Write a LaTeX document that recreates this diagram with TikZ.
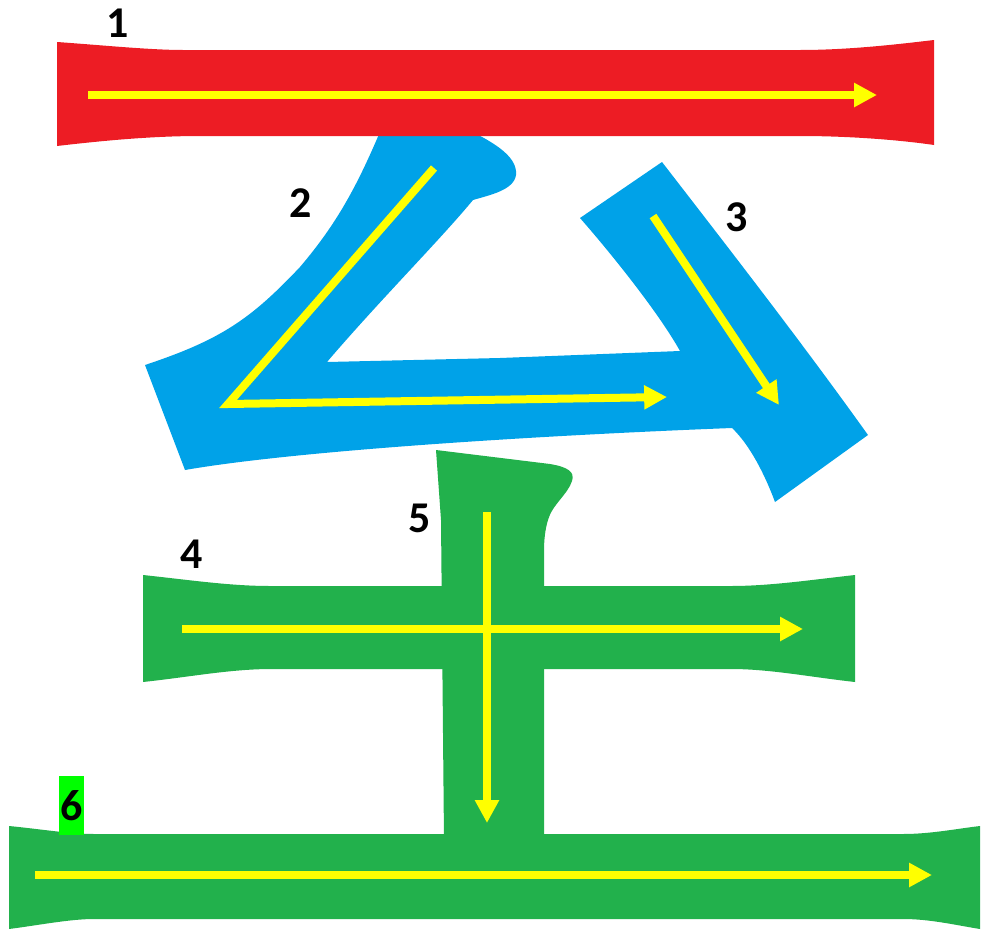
\documentclass[tikz,border=0pt]{standalone}
\usepackage{xcolor}
\usepackage{fontspec}
\setmainfont{Carlito}
\usepackage{tikz}
\usetikzlibrary{arrows.meta, positioning, calc}
\definecolor{strokered}{HTML}{ED1C24}
\definecolor{strokeblue}{HTML}{00A2E8}
\definecolor{strokegreen}{HTML}{22B14C}
\definecolor{arrowyellow}{HTML}{FFFF00}
\definecolor{markgreen}{HTML}{00FF00}
\tikzset{
  order/.style={draw=arrowyellow, line width=4.55pt,
                -{Triangle[length=13pt,width=13pt]}},
  num/.style={font=\fontsize{25}{25}\selectfont\bfseries, inner sep=0pt}
}

\begin{document}
\begin{tikzpicture}[x=0.02cm, y=-0.02cm]
    \useasboundingbox (0,0) rectangle (981,930);

    % strokes of the character
    \fill[strokegreen] (436,450) -- (550,464) .. controls (568,467) and (575,472) .. (572,481)
      .. controls (568,494) and (552,505) .. (548,520) .. controls (545,530) and (544,540) .. (544,552)
      -- (544,840) -- (444,840) -- (441,520) -- cycle;
    \fill[strokegreen] (143,575) .. controls (190,580) and (230,586) .. (270,586) -- (731,586)
      .. controls (770,586) and (810,580) .. (855,575) -- (855,682)
      .. controls (810,677) and (770,669) .. (731,669) -- (272,669)
      .. controls (230,669) and (190,677) .. (143,682) -- cycle;
    \fill[strokegreen] (9,826) .. controls (40,829) and (70,834) .. (94,834) -- (903,834)
      .. controls (930,834) and (955,829) .. (980,826) -- (980,929)
      .. controls (955,925) and (930,919) .. (903,919) -- (94,919)
      .. controls (70,919) and (40,925) .. (9,929) -- cycle;
    \fill[strokeblue] (385,120) -- (458,125) .. controls (490,140) and (518,155) .. (516,175)
      .. controls (514,190) and (490,195) .. (473,200)
      .. controls (440,240) and (380,300) .. (327,362) -- (500,358) -- (680,351)
      .. controls (660,315) and (615,258) .. (580,218) -- (662,162)
      .. controls (730,250) and (800,340) .. (868,435) -- (775,502)
      .. controls (765,475) and (750,445) .. (732,428)
      .. controls (550,435) and (300,450) .. (185,470) -- (145,365)
      .. controls (220,340) and (250,320) .. (300,267)
      .. controls (340,220) and (360,180) .. (385,120) -- cycle;
    \fill[strokered] (57,42) .. controls (100,45) and (150,50) .. (183,50) -- (800,50)
      .. controls (850,50) and (900,44) .. (934,40) -- (934,145)
      .. controls (900,140) and (850,136) .. (800,136) -- (200,136)
      .. controls (150,136) and (100,141) .. (57,146) -- cycle;

    % stroke order
    \coordinate (s1a) at (88,95);   \coordinate (s1b) at (877,95);
    \coordinate (s2a) at (434,168); \coordinate (s2k) at (228,404);
    \coordinate (s2b) at (667,397);
    \coordinate (s3a) at (653,216); \coordinate (s3b) at (779,405);
    \coordinate (s4a) at (182,629); \coordinate (s4b) at (803,629);
    \coordinate (s5a) at (487,512); \coordinate (s5b) at (487,823);
    \coordinate (s6a) at (35,875);  \coordinate (s6b) at (932,875);
    \draw[order] (s1a) -- (s1b);
    \draw[order, line join=miter] (s2a) -- (s2k) -- (s2b);
    \draw[order] (s3a) -- (s3b);
    \draw[order] (s4a) -- (s4b);
    \draw[order] (s5a) -- (s5b);
    \draw[order] (s6a) -- (s6b);

    \node[num] (n1) at (118,23) {1};
    \node[num] (n2) at (301,203) {2};
    \node[num] (n3) at (737,217) {3};
    \node[num] (n4) at (192,554) {4};
    \node[num] (n5) at (420,518) {5};
    \node[num, fill=markgreen, minimum width=0.5cm, minimum height=1.18cm] (n6) at (71.5,805.5) {6};
  \end{tikzpicture}
\end{document}
